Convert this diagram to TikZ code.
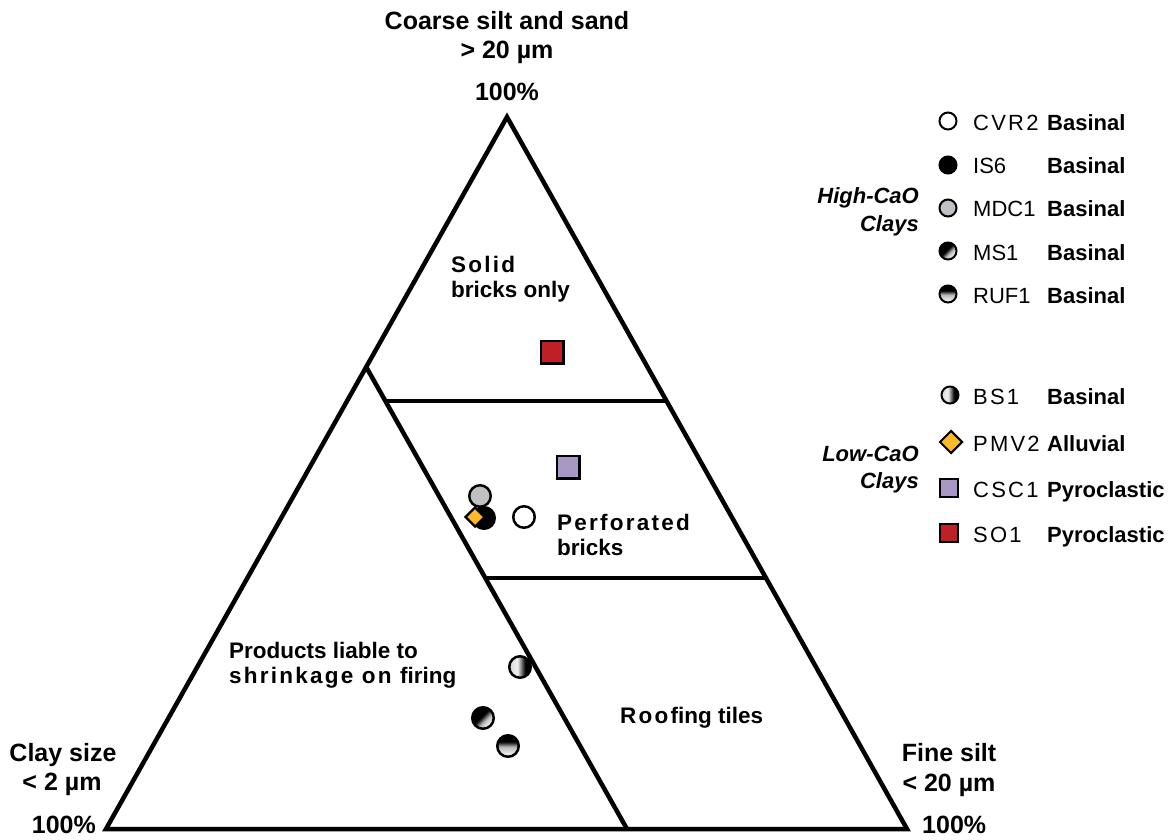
\documentclass[tikz,border=0pt]{standalone}
\usepackage{fontspec}
\setmainfont{Liberation Sans}
\usetikzlibrary{shapes.geometric}
\newcommand{\spc}[1]{{\addfontfeature{LetterSpace=10}#1}}
\definecolor{sored}{RGB}{190,32,38}
\definecolor{cscpurple}{RGB}{167,152,196}
\definecolor{pmvgold}{RGB}{251,184,41}
\definecolor{mdcgray}{RGB}{192,193,196}
\pgfdeclarehorizontalshading{bsshade}{100bp}{color(0bp)=(gray!30); color(27bp)=(gray!30); color(44bp)=(gray!12); color(62bp)=(black); color(100bp)=(black)}
\pgfdeclareverticalshading{rufshade}{100bp}{color(0bp)=(gray!10); color(30bp)=(gray!10); color(48bp)=(gray!55); color(60bp)=(black); color(100bp)=(black)}
\pgfdeclareverticalshading{msshade}{100bp}{color(0bp)=(gray!12); color(30bp)=(gray!12); color(42bp)=(gray!55); color(54bp)=(black); color(100bp)=(black)}
\tikzset{
  edge/.style={line width=4.5pt},
  axlbl/.style={font=\fontsize{25}{30}\selectfont\bfseries, inner sep=0pt, anchor=base},
  reglbl/.style={font=\fontsize{22.5}{25}\selectfont\bfseries, inner sep=0pt, anchor=base west},
  grplbl/.style={font=\fontsize{22}{27}\selectfont\bfseries\itshape, inner sep=0pt, anchor=base east},
  idlbl/.style={font=\fontsize{22}{27}\selectfont, inner sep=0pt, anchor=base west},
  orig/.style={font=\fontsize{22}{27}\selectfont\bfseries, inner sep=0pt, anchor=base west},
  pc/.style={circle, draw=black, line width=2.5pt, minimum size=21.5pt, inner sep=0pt},
  ps/.style={rectangle, draw=black, line width=2.5pt, minimum size=22.5pt, inner sep=0pt},
  pd/.style={diamond, draw=black, line width=2.2pt, minimum size=20pt, inner sep=0pt},
  lc/.style={circle, draw=black, line width=2pt, minimum size=17pt, inner sep=0pt},
  ls/.style={rectangle, draw=black, line width=2pt, minimum size=18pt, inner sep=0pt},
  ld/.style={diamond, draw=black, line width=2pt, minimum size=23pt, inner sep=0pt},
  cvr/.style={fill=white},
  iss/.style={fill=black},
  mdc/.style={fill=mdcgray},
  ms/.style={shade, shading=msshade, shading angle=45},
  ruf/.style={shade, shading=rufshade},
  bs/.style={shade, shading=bsshade},
  pmv/.style={fill=pmvgold},
  csc/.style={fill=cscpurple},
  so/.style={fill=sored},
}
\begin{document}
\begin{tikzpicture}[x=1pt,y=-1pt]
\fill[white] (0,0) rectangle (1176,839);
\useasboundingbox (0,0) rectangle (1176,839);

% triangle
\coordinate (A) at (507,117);
\coordinate (L) at (106,829);
\coordinate (R) at (907,829);
\coordinate (P) at (366.2,367);
\coordinate (Q) at (627,829);
\coordinate (H1a) at (385.2,401);
\coordinate (H1b) at (666.5,401);
\coordinate (H2a) at (485.2,578);
\coordinate (H2b) at (766,578);
\draw[edge, line join=miter] (A) -- (L) -- (R) -- cycle;
\draw[edge] (P) -- (Q);
\draw[edge] (H1a) -- (H1b);
\draw[edge] (H2a) -- (H2b);

% axis labels
\node[axlbl] (top1) at (507,29) {Coarse silt and sand};
\node[axlbl] (top2) at (507,58) {> 20 µm};
\node[axlbl] (top3) at (507,100) {100\%};
\node[axlbl] (lft1) at (63,761) {Clay size};
\node[axlbl] (lft2) at (62,790) {< 2 µm};
\node[axlbl, anchor=base east] (lft3) at (96,833) {100\%};
\node[axlbl] (rgt1) at (949,761) {Fine silt};
\node[axlbl] (rgt2) at (949,791) {< 20 µm};
\node[axlbl, anchor=base west] (rgt3) at (922,833) {100\%};

% region labels
\node[reglbl] (sol1) at (451,272) {\spc{Solid}};
\node[reglbl] (sol2) at (451,297) {bricks only};
\node[reglbl] (per1) at (557,530) {\spc{Perforated}};
\node[reglbl] (per2) at (557,555) {bricks};
\node[reglbl] (pro1) at (229,658) {Products liable to};
\node[reglbl] (pro2) at (229,683) {\spc{shrinkage on }firing};
\node[reglbl] (roo1) at (620,723) {\spc{Roof}ing tiles};

% data points
\node[ps, so] (pSO1) at (552,352) {};
\node[ps, csc] (pCSC1) at (568,467) {};
\node[pc, iss] (pIS6) at (484,518) {};
\node[pc, mdc] (pMDC1) at (480,496) {};
\node[pd, pmv] (pPMV2) at (475,517) {};
\node[pc, cvr] (pCVR2) at (524,517) {};
\node[pc, bs] (pBS1) at (520,667) {};
\node[pc, ms] (pMS1) at (483,718) {};
\node[pc, ruf] (pRUF1) at (508,746) {};

% legend
\node[grplbl] (hi1) at (919,203) {High-CaO};
\node[grplbl] (hi2) at (919,231) {Clays};
\node[grplbl] (lo1) at (919,461) {Low-CaO};
\node[grplbl] (lo2) at (919,488) {Clays};

\node[lc, cvr] (kCVR2) at (948,121) {};
\node[idlbl] (tCVR2) at (973,130) {\spc{CVR2}};
\node[orig] (oCVR2) at (1047,130) {Basinal};
\node[lc, iss] (kIS6) at (948,165) {};
\node[idlbl] (tIS6) at (973,173) {IS6};
\node[orig] (oIS6) at (1047,173) {Basinal};
\node[lc, mdc] (kMDC1) at (948,208) {};
\node[idlbl] (tMDC1) at (973,216) {MDC1};
\node[orig] (oMDC1) at (1047,216) {Basinal};
\node[lc, ms] (kMS1) at (948,251) {};
\node[idlbl] (tMS1) at (973,260) {MS1};
\node[orig] (oMS1) at (1047,260) {Basinal};
\node[lc, ruf] (kRUF1) at (948,294) {};
\node[idlbl] (tRUF1) at (973,303) {RUF1};
\node[orig] (oRUF1) at (1047,303) {Basinal};

\node[lc, bs] (kBS1) at (950,395) {};
\node[idlbl] (tBS1) at (973,404) {\spc{BS1}};
\node[orig] (oBS1) at (1047,404) {Basinal};
\node[ld, pmv] (kPMV2) at (951,442) {};
\node[idlbl] (tPMV2) at (973,451) {\spc{PMV2}};
\node[orig] (oPMV2) at (1047,451) {Alluvial};
\node[ls, csc] (kCSC1) at (949,488) {};
\node[idlbl] (tCSC1) at (973,497) {\spc{CSC1}};
\node[orig] (oCSC1) at (1047,497) {Pyroclastic};
\node[ls, so] (kSO1) at (949,533) {};
\node[idlbl] (tSO1) at (973,542) {\spc{SO1}};
\node[orig] (oSO1) at (1047,542) {Pyroclastic};
\end{tikzpicture}
\end{document}
